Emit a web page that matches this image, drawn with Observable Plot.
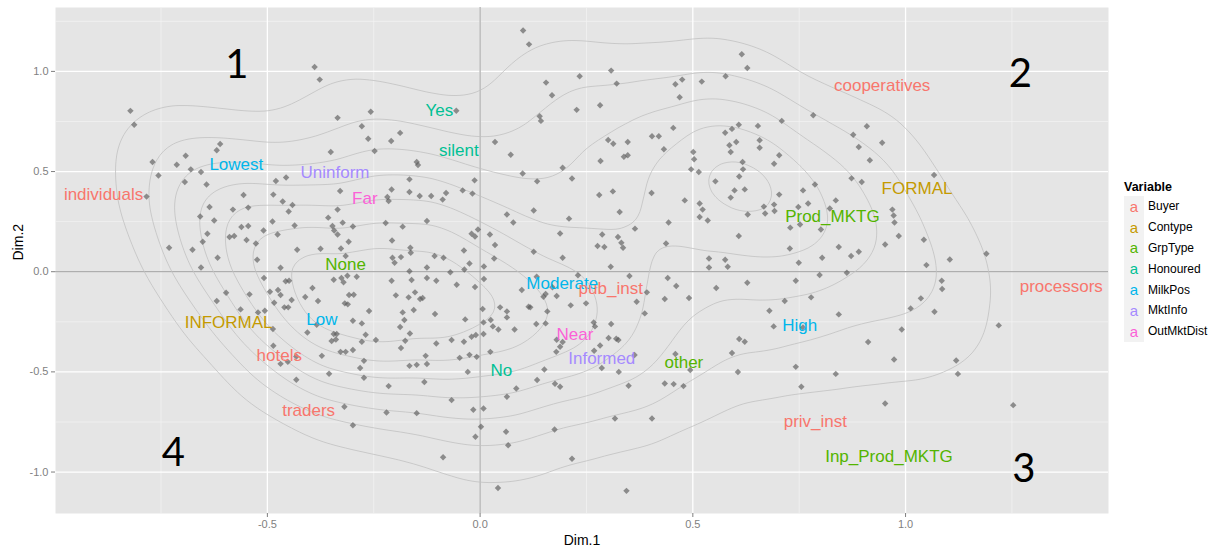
<!DOCTYPE html>
<html>
<head>
<meta charset="utf-8">
<script src="https://cdn.jsdelivr.net/npm/d3@7"></script>
<script src="https://cdn.jsdelivr.net/npm/@observablehq/plot@0.6"></script>
<style>
  html, body { margin: 0; padding: 0; background: #ffffff; }
  #wrap { position: relative; width: 1213px; height: 550px; font-family: "Liberation Sans", Arial, sans-serif; }
  #legend { position: absolute; left: 1124px; top: 178px; }
  #legend .title { font-weight: bold; font-size: 12.5px; color: #000; height: 18px; line-height: 18px; }
  #legend .row { display: flex; align-items: center; height: 20.8px; }
  #legend .key { width: 20px; height: 20.8px; background: #f2f2f2; display: flex; align-items: center; justify-content: center; font-size: 15px; line-height: 15px; }
  #legend .lab { margin-left: 4px; font-size: 12px; color: #000; }
</style>
</head>
<body>
<div id="wrap"><div id="legend"></div></div>
<script>
// MCA variable categories (text labels)
const catLabels = ["individuals","Lowest","Uninform","Far","Yes","silent","None","INFORMAL","Low","hotels","traders","Moderate","pub_inst","Near","Informed","No","other","High","priv_inst","Inp_Prod_MKTG","processors","cooperatives","FORMAL","Prod_MKTG"];
const catVariable = ["Buyer","MilkPos","MktInfo","OutMktDist","Honoured","Honoured","GrpType","Contype","MilkPos","Buyer","Buyer","MilkPos","Buyer","OutMktDist","MktInfo","Honoured","GrpType","MilkPos","Buyer","GrpType","Buyer","Buyer","Contype","GrpType"];
const catDim1 = [-0.885,-0.573,-0.341,-0.271,-0.096,-0.050,-0.316,-0.591,-0.372,-0.472,-0.403,0.193,0.307,0.223,0.286,0.050,0.479,0.751,0.788,0.961,1.366,0.945,1.027,0.828];
const catDim2 = [0.386,0.534,0.494,0.366,0.803,0.603,0.038,-0.253,-0.241,-0.420,-0.691,-0.058,-0.085,-0.316,-0.432,-0.491,-0.452,-0.270,-0.749,-0.923,-0.076,0.930,0.416,0.275];

// legend
const variables = ["Buyer","Contype","GrpType","Honoured","MilkPos","MktInfo","OutMktDist"];
const variableColors = ["#F8766D","#C49A00","#53B400","#00C094","#00B6EB","#A58AFF","#FB61D7"];

// quadrant annotations
const quadLabels = ["1","2","3","4"];
const quadDim1 = [-0.572, 1.270, 1.278, -0.721];
const quadDim2 = [1.031, 0.984, -0.986, -0.907];

// axis ticks
const majorTicksX = [-0.5, 0, 0.5, 1.0];
const minorTicksX = [-0.75, -0.25, 0.25, 0.75, 1.25];
const majorTicksY = [-1.0, -0.5, 0, 0.5, 1.0];
const minorTicksY = [-0.75, -0.25, 0.25, 0.75, 1.25];

// individuals (Dim.1, Dim.2)
const individuals = [
[-0.389,1.022],[-0.377,0.959],[-0.822,0.803],[-0.813,0.734],[-0.335,0.768],[-0.257,0.799],[-0.278,0.726],[-0.263,0.664],[-0.209,0.653],[-0.188,0.693],
[-0.248,0.603],[-0.351,0.598],[-0.611,0.638],[-0.619,0.606],[-0.692,0.579],[-0.770,0.548],[-0.713,0.534],[-0.680,0.511],[-0.656,0.498],[-0.756,0.480],
[-0.694,0.448],[-0.643,0.435],[-0.784,0.375],[-0.480,0.453],[-0.456,0.470],[-0.329,0.403],[-0.208,0.410],[-0.218,0.373],[-0.215,0.353],[-0.556,0.383],
[-0.486,0.385],[-0.464,0.351],[-0.441,0.333],[-0.450,0.301],[-0.335,0.310],[-0.636,0.323],[-0.581,0.310],[-0.545,0.320],[-0.658,0.276],[-0.625,0.256],
[-0.488,0.251],[-0.357,0.270],[-0.323,0.245],[-0.299,0.226],[-0.347,0.228],[-0.343,0.206],[-0.335,0.186],[-0.222,0.243],[-0.182,0.225],[-0.561,0.223],
[-0.545,0.228],[-0.509,0.206],[-0.436,0.231],[-0.476,0.186],[-0.641,0.190],[-0.652,0.150],[-0.589,0.173],[-0.578,0.178],[-0.549,0.158],[-0.527,0.141],
[-0.731,0.120],[-0.676,0.110],[-0.430,0.110],[-0.375,0.115],[-0.327,0.116],[-0.309,0.150],[-0.207,0.156],[-0.617,0.070],[-0.524,0.060],[-0.316,0.078],
[-0.206,0.070],[-0.186,0.073],
[0.101,1.204],[0.115,1.135],[0.615,1.086],[0.628,1.017],[0.308,1.004],[0.234,0.976],[0.155,0.944],[0.321,0.939],[0.475,0.959],[0.521,0.949],
[0.577,0.976],[0.459,0.936],[0.469,0.871],[0.169,0.881],[0.282,0.831],[0.227,0.808],[0.140,0.776],[0.143,0.753],[-0.056,0.804],[0.035,0.648],
[0.072,0.584],[-0.149,0.548],[-0.146,0.533],[0.301,0.658],[0.313,0.639],[0.347,0.648],[0.338,0.574],[0.347,0.581],[0.283,0.553],[0.404,0.676],
[0.420,0.676],[0.454,0.718],[0.432,0.611],[0.501,0.598],[0.503,0.561],[0.496,0.511],[0.514,0.498],[0.576,0.694],[0.592,0.713],[0.608,0.734],
[0.602,0.648],[0.586,0.631],[0.589,0.598],[0.617,0.548],[0.618,0.511],[0.194,0.519],[0.100,0.490],[0.134,0.451],[0.216,0.465],[-0.013,0.456],
[-0.166,0.461],[-0.166,0.398],[-0.142,0.378],[-0.115,0.378],[-0.088,0.360],[-0.080,0.393],[-0.041,0.406],[-0.018,0.390],[0.280,0.383],[0.312,0.401],
[0.403,0.393],[0.481,0.356],[0.553,0.451],[0.609,0.475],[0.598,0.406],[0.622,0.411],[0.589,0.370],[0.516,0.341],[0.523,0.310],[0.516,0.273],
[0.535,0.256],[0.629,0.286],[0.126,0.306],[0.063,0.286],[0.078,0.246],[0.209,0.265],[0.328,0.298],[0.443,0.246],[0.364,0.215],[-0.125,0.253],
[-0.005,0.211],[-0.020,0.190],[-0.012,0.176],[0.023,0.186],[0.035,0.133],[0.188,0.191],[0.287,0.186],[0.324,0.173],[0.332,0.145],[0.336,0.120],
[0.276,0.128],[0.292,0.123],[0.437,0.141],[0.608,0.178],[0.126,0.100],[-0.038,0.106],[-0.164,0.120],[-0.163,0.095],[-0.107,0.078],[-0.086,0.070],
[0.033,0.066],[0.194,0.070],[0.538,0.066],[0.576,0.060],
[0.783,0.781],[0.709,0.753],[0.909,0.726],[0.877,0.684],[0.945,0.644],[0.890,0.623],[0.916,0.556],[0.703,0.581],[0.691,0.539],[0.653,0.728],
[0.657,0.656],[0.657,0.619],[1.067,0.483],[0.873,0.466],[0.897,0.448],[0.787,0.435],[0.759,0.406],[0.703,0.385],[0.667,0.325],[0.670,0.291],
[0.691,0.335],[0.692,0.303],[0.748,0.323],[0.771,0.341],[0.836,0.356],[0.822,0.316],[0.969,0.310],[0.972,0.281],[0.974,0.246],[0.729,0.220],
[0.752,0.236],[0.801,0.211],[0.984,0.178],[1.043,0.160],[0.952,0.136],[0.843,0.123],[0.890,0.100],[0.872,0.078],[0.728,0.116],[0.804,0.070],
[1.190,0.090],[1.104,0.061],
[-0.656,0.021],[-0.469,0.020],[-0.508,-0.031],[-0.597,-0.105],[-0.619,-0.146],[-0.542,-0.113],[-0.494,-0.100],[-0.475,-0.091],[-0.469,-0.116],[-0.449,-0.045],
[-0.457,-0.048],[-0.484,-0.155],[-0.460,-0.178],[-0.451,-0.178],[-0.443,-0.141],[-0.411,-0.126],[-0.394,-0.081],[-0.381,-0.146],[-0.563,-0.188],[-0.522,-0.203],
[-0.506,-0.195],[-0.487,-0.286],[-0.486,-0.370],[-0.469,-0.460],[-0.452,-0.450],[-0.432,-0.423],[-0.432,-0.539],[-0.406,-0.303],[-0.384,-0.265],[-0.372,-0.420],
[-0.355,-0.509],[-0.349,-0.346],[-0.339,-0.338],[-0.337,-0.311],[-0.344,-0.311],[-0.328,-0.400],[-0.316,-0.400],[-0.299,-0.391],[-0.344,-0.040],[-0.326,-0.031],
[-0.312,-0.020],[-0.290,-0.025],[-0.321,-0.053],[-0.308,-0.116],[-0.297,-0.115],[-0.318,-0.158],[-0.311,-0.163],[-0.261,-0.196],[-0.278,-0.258],[-0.299,-0.245],
[-0.278,-0.350],[-0.269,-0.315],[-0.245,-0.341],[-0.273,-0.445],[-0.282,-0.481],[-0.273,-0.529],[-0.215,-0.571],[-0.220,-0.703],[-0.319,-0.674],[-0.299,-0.766],
[-0.201,0.045],[-0.208,-0.045],[-0.198,-0.118],[-0.182,-0.203],[-0.178,-0.241],[-0.188,-0.276],[-0.176,-0.345],[-0.186,-0.381],
[-0.166,0.002],[-0.161,-0.041],[-0.168,-0.128],[-0.156,-0.191],[-0.125,0.021],[-0.125,-0.031],[-0.103,-0.045],[-0.070,-0.003],[-0.055,-0.065],[-0.037,0.011],
[-0.025,0.041],[-0.012,-0.076],[0.009,0.026],[0.009,-0.036],[-0.153,-0.103],[-0.141,-0.136],[-0.135,-0.131],[-0.106,-0.211],[-0.165,-0.308],[-0.103,-0.358],
[-0.067,-0.341],[-0.038,-0.350],[-0.020,-0.325],[-0.010,-0.316],[-0.035,-0.238],[0.006,-0.186],[0.008,-0.253],[0.025,-0.241],[0.030,-0.273],[0.043,-0.288],
[0.008,-0.311],[-0.166,-0.470],[-0.149,-0.465],[-0.125,-0.461],[-0.128,-0.420],[-0.048,-0.430],[-0.025,-0.415],[-0.008,-0.425],[-0.029,-0.500],[0.024,-0.400],
[-0.131,-0.551],[-0.067,-0.641],[-0.149,-0.706],[-0.016,-0.689],[0.008,-0.683],[0.002,-0.774],[-0.011,-0.824],[-0.087,-0.926],[0.042,-1.080],[0.061,-0.799],
[0.066,-0.866],[0.085,-0.583],[0.063,-0.624],[0.134,-0.541],[0.151,-0.488],[0.176,-0.559],[0.188,-0.574],[0.175,-0.788],[0.216,-0.934],[0.344,-1.094],
[0.098,-0.091],[0.114,-0.175],[0.118,-0.178],[0.132,-0.261],[0.154,-0.258],[0.158,-0.198],[0.149,-0.125],[0.154,-0.111],[0.170,-0.078],[0.063,-0.198],
[0.063,-0.228],[0.047,-0.178],[0.081,-0.288],[0.133,-0.025],[0.180,-0.121],[0.213,-0.168],[0.249,-0.158],[0.230,-0.018],[0.307,0.025],[0.180,-0.340],
[0.188,-0.375],[0.179,-0.400],[0.194,-0.351],[0.267,-0.253],[0.270,-0.273],[0.282,-0.368],[0.268,-0.395],[0.302,-0.331],[0.308,-0.261],[0.320,-0.335],
[0.325,-0.341],[0.286,-0.481],[0.326,-0.500],[0.349,-0.569],[0.363,-0.416],[0.317,-0.733],[0.404,-0.733],[0.351,-0.021],[0.368,-0.150],[0.387,-0.208],
[0.392,-0.103],[0.434,-0.136],[0.461,-0.071],[0.441,-0.031],[0.491,-0.131],[0.555,-0.081],[0.538,0.021],[0.582,0.025],[0.628,-0.055],[0.434,-0.558],
[0.455,-0.561],[0.478,-0.571],[0.459,-0.411],[0.494,-0.491],[0.592,-0.406],[0.606,-0.501],[0.609,-0.336],[0.622,-0.350],
[0.749,0.045],[0.798,-0.016],[0.742,-0.045],[0.862,-0.005],[1.049,0.033],[0.778,-0.128],[0.716,-0.146],[0.680,-0.195],[0.843,-0.213],[0.690,-0.273],
[0.759,-0.278],[1.085,-0.045],[1.086,-0.086],[1.036,-0.133],[1.012,-0.183],[1.068,-0.200],[0.991,-0.288],[1.219,-0.268],[0.912,-0.351],[0.742,-0.475],
[0.836,-0.510],[0.973,-0.438],[1.119,-0.443],[1.123,-0.510],[0.755,-0.574],[0.952,-0.658],[1.253,-0.666]
];

const cats = catLabels.map((label, i) => ({label, variable: catVariable[i], x: catDim1[i], y: catDim2[i]}));
const quads = quadLabels.map((label, i) => ({label, x: quadDim1[i], y: quadDim2[i]}));
const fmt = d => d.toFixed(1);

const chart = Plot.plot({
  width: 1213,
  height: 550,
  marginLeft: 55,
  marginRight: 105,
  marginTop: 7,
  marginBottom: 37,
  style: {fontFamily: "'Liberation Sans', Arial, sans-serif", fontSize: "11px", background: "#ffffff"},
  x: {domain: [-0.998, 1.477]},
  y: {domain: [-1.207, 1.319]},
  color: {domain: variables, range: variableColors},
  marks: [
    Plot.frame({fill: "#e5e5e5", stroke: null}),
    Plot.ruleX(minorTicksX, {stroke: "#f2f2f2", strokeWidth: 0.8}),
    Plot.ruleY(minorTicksY, {stroke: "#f2f2f2", strokeWidth: 0.8}),
    Plot.ruleX(majorTicksX, {stroke: "#ffffff", strokeWidth: 1.3}),
    Plot.ruleY(majorTicksY, {stroke: "#ffffff", strokeWidth: 1.3}),
    Plot.ruleX([0], {stroke: "#9a9a9a", strokeWidth: 1}),
    Plot.ruleY([0], {stroke: "#9a9a9a", strokeWidth: 1}),
    Plot.density(individuals, {x: d => d[0], y: d => d[1], stroke: "#c2c2c2", strokeWidth: 0.8, bandwidth: 44, thresholds: 8, clip: "frame"}),
    Plot.dot(individuals, {x: d => d[0], y: d => d[1], symbol: "diamond2", r: 2.9, fill: "#5a5a5a", fillOpacity: 0.65, stroke: null}),
    Plot.text(cats, {x: "x", y: "y", text: "label", fill: "variable", fontSize: 17}),
    Plot.text(quads, {x: "x", y: "y", text: "label", fill: "#000000", fontSize: 40, fontFamily: "Lato, 'Open Sans', sans-serif"}),
    Plot.axisX({ticks: majorTicksX, tickFormat: fmt, tickSize: 4, tickPadding: 3, color: "#7f7f7f", fontSize: 11, label: null}),
    Plot.axisY({ticks: majorTicksY, tickFormat: fmt, tickSize: 4, tickPadding: 3, color: "#7f7f7f", fontSize: 11, label: null}),
    Plot.text(["Dim.1"], {frameAnchor: "bottom", dy: 31, text: d => d, fontSize: 14, fill: "#000000"}),
    Plot.text(["Dim.2"], {frameAnchor: "left", dx: -37, rotate: -90, text: d => d, fontSize: 14, fill: "#000000"})
  ]
});
document.getElementById("wrap").prepend(chart);

const legend = document.getElementById("legend");
const t = document.createElement("div");
t.className = "title";
t.textContent = "Variable";
legend.appendChild(t);
variables.forEach((v, i) => {
  const row = document.createElement("div");
  row.className = "row";
  const k = document.createElement("div");
  k.className = "key";
  k.style.color = variableColors[i];
  k.textContent = "a";
  const l = document.createElement("div");
  l.className = "lab";
  l.textContent = v;
  row.appendChild(k);
  row.appendChild(l);
  legend.appendChild(row);
});
</script>
</body>
</html>
